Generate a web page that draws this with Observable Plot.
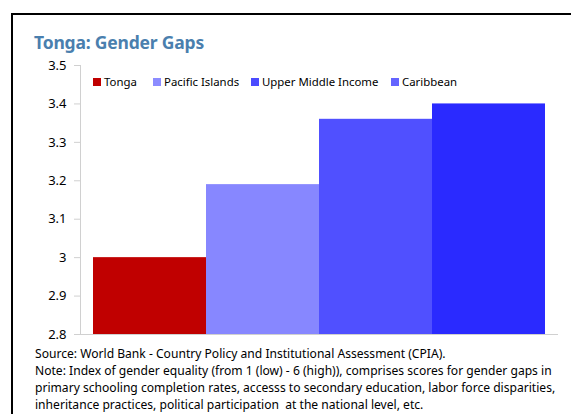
<!DOCTYPE html>
<html><head><meta charset="utf-8">
<script src="https://cdn.jsdelivr.net/npm/d3@7"></script>
<script src="https://cdn.jsdelivr.net/npm/@observablehq/plot@0.6"></script>
<style>
body{margin:0;background:#fff;font-family:"Noto Sans",sans-serif;}
#wrap{position:relative;width:571px;height:414px;overflow:hidden;background:#fff;}
#frame{position:absolute;left:11px;top:13px;width:600px;height:420px;border:2px solid #000;box-sizing:border-box;}
#title{position:absolute;left:34px;top:30px;font-size:17.5px;font-weight:bold;color:#4a7fae;letter-spacing:-0.2px;}
#chart{position:absolute;left:0;top:0;}
#legend{position:absolute;top:74px;left:0;font-size:11.4px;color:#000;}
.li{position:absolute;white-space:nowrap;}
.sw{display:inline-block;width:8px;height:8px;margin-right:3px;vertical-align:0px;}
#caption{position:absolute;left:35px;top:345px;font-size:12.1px;line-height:17px;color:#000;white-space:nowrap;}
</style></head>
<body>
<div id="wrap">
  <div id="frame"></div>
  <div id="chart"></div>
  <div id="title">Tonga: Gender Gaps</div>
  <div id="legend"></div>
  <div id="caption"></div>
</div>
<script>
const categories = ["Tonga", "Pacific Islands", "Upper Middle Income", "Caribbean"];
const values = [3.0, 3.19, 3.36, 3.40];
const barColors = ["#c00000", "#8787ff", "#5050ff", "#2a2aff"];
const legendColors = ["#c00000", "#8c8cff", "#4b4bff", "#6464ff"];
const yTicks = [2.8, 2.9, 3.0, 3.1, 3.2, 3.3, 3.4, 3.5];
const captionLines = [
  "Source: World Bank - Country Policy and Institutional Assessment (CPIA).",
  "Note: Index of gender equality (from 1 (low) - 6 (high)), comprises scores for gender gaps in",
  "primary schooling completion rates, accesss to secondary education, labor force disparities,",
  "inheritance practices, political participation  at the national level, etc."
];
const legendX = [93, 153, 251, 391];

const data = categories.map((c, i) => ({category: c, value: values[i]}));

const chart = Plot.plot({
  width: 571,
  height: 350,
  marginLeft: 80,
  marginRight: 14,
  marginTop: 65,
  marginBottom: 16,
  style: {fontFamily: "Noto Sans, sans-serif", fontSize: "13px", color: "#000", background: "transparent"},
  x: {domain: categories, type: "band", paddingInner: 0, paddingOuter: 0.106, axis: null},
  y: {domain: [2.8, 3.5], ticks: yTicks, tickFormat: d => String(+d.toFixed(1)), label: null, tickSize: 6, tickPadding: 8},
  color: {domain: categories, range: barColors},
  marks: [
    Plot.barY(data, {x: "category", y1: 2.8, y2: "value", fill: "category"}),
    Plot.axisY({ticks: yTicks, tickFormat: d => String(+d.toFixed(1)), tickSize: 6, tickPadding: 8, stroke: "#d0d0d0", label: null, fontSize: 13}),
    Plot.frame({anchor: "left", stroke: "#d0d0d0"}),
    Plot.frame({anchor: "bottom", stroke: "#d0d0d0"})
  ]
});
document.getElementById("chart").appendChild(chart);

const leg = document.getElementById("legend");
categories.forEach((c, i) => {
  const d = document.createElement("div");
  d.className = "li";
  d.style.left = legendX[i] + "px";
  d.innerHTML = `<span class="sw" style="background:${legendColors[i]}"></span>${c}`;
  leg.appendChild(d);
});
document.getElementById("caption").innerHTML = captionLines.map(l => `<div>${l.replace(/  /g, "&nbsp; ")}</div>`).join("");
</script>
</body></html>
